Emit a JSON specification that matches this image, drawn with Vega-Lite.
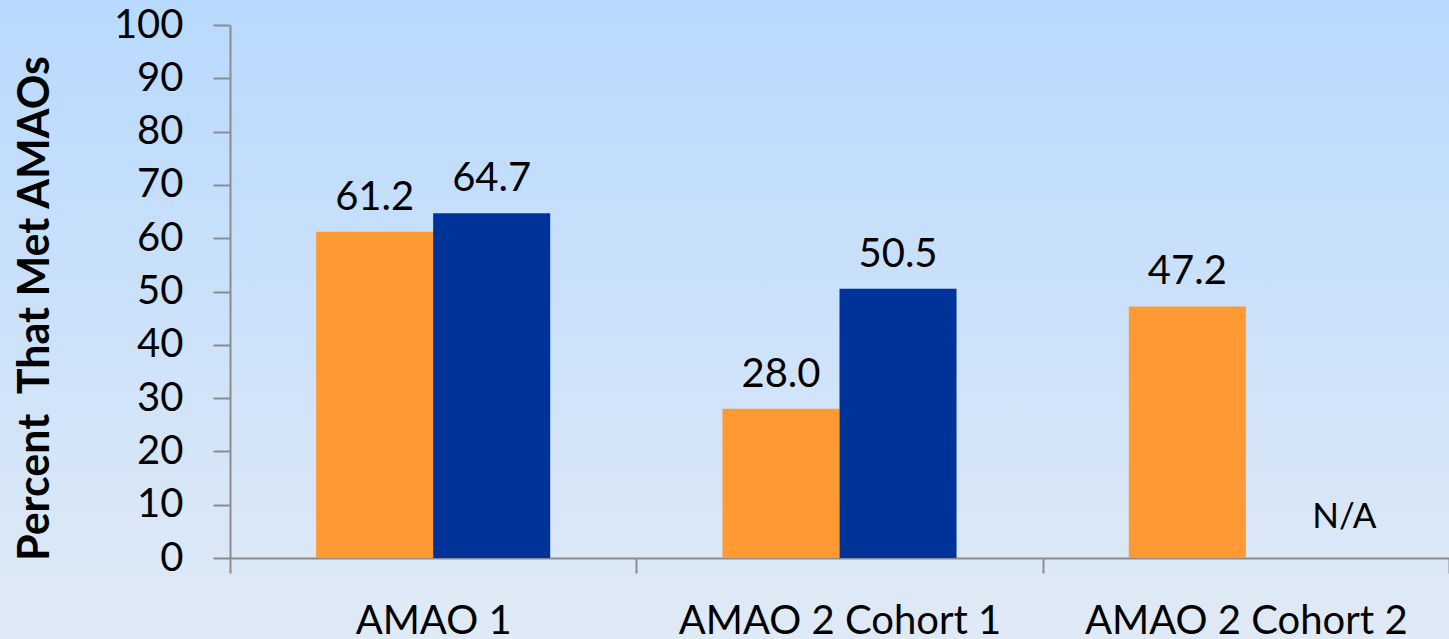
{
  "$schema": "https://vega.github.io/schema/vega-lite/v6.json",
  "width": 1449,
  "height": 639,
  "autosize": {"type": "none"},
  "padding": 0,
  "background": "#cce2f9",
  "config": {
    "font": "Lato",
    "mark": {"invalid": "show"},
    "view": {
      "stroke": null,
      "fill": {
        "gradient": "linear",
        "x1": 0, "y1": 0, "x2": 0, "y2": 1,
        "stops": [
          {"offset": 0, "color": "#b8d9ff"},
          {"offset": 1, "color": "#e0eaf5"}
        ]
      }
    }
  },
  "data": {
    "values": [
      {"category": "AMAO 1", "series": "Series 1", "value": 61.2},
      {"category": "AMAO 1", "series": "Series 2", "value": 64.7},
      {"category": "AMAO 2 Cohort 1", "series": "Series 1", "value": 28.0},
      {"category": "AMAO 2 Cohort 1", "series": "Series 2", "value": 50.5},
      {"category": "AMAO 2 Cohort 2", "series": "Series 1", "value": 47.2},
      {"category": "AMAO 2 Cohort 2", "series": "Series 2", "value": null}
    ]
  },
  "encoding": {
    "x": {
      "field": "category",
      "type": "nominal",
      "sort": ["AMAO 1", "AMAO 2 Cohort 1", "AMAO 2 Cohort 2"],
      "scale": {"range": [230, 1449], "paddingInner": 0, "paddingOuter": 0, "round": false},
      "axis": {
        "title": null,
        "offset": -81,
        "tickBand": "extent",
        "tickSize": 15,
        "tickColor": "#8c8c8c",
        "tickWidth": 2,
        "domainColor": "#8c8c8c",
        "domainWidth": 2,
        "labelFont": "Lato",
        "labelFontSize": 40,
        "labelColor": "#000000",
        "labelAngle": 0,
        "labelPadding": 60,
        "labelBaseline": "alphabetic",
        "labelOverlap": false,
        "labelLimit": 0
      }
    },
    "xOffset": {
      "field": "series",
      "type": "nominal",
      "sort": ["Series 1", "Series 2"],
      "scale": {"paddingInner": 0, "paddingOuter": 0.736}
    },
    "y": {
      "field": "value",
      "type": "quantitative",
      "scale": {"domain": [0, 100], "range": [558, 25], "nice": false, "zero": true},
      "axis": {
        "values": [0, 10, 20, 30, 40, 50, 60, 70, 80, 90, 100],
        "offset": -230,
        "grid": false,
        "domainColor": "#8c8c8c",
        "domainWidth": 2,
        "tickColor": "#8c8c8c",
        "tickWidth": 2,
        "tickSize": 17,
        "labelPadding": 30,
        "labelFont": "Lato",
        "labelFontSize": 40,
        "labelColor": "#000000",
        "labelFlush": false,
        "labelOverlap": false,
        "title": "Percent\u00a0 That Met AMAOs",
        "titleFont": "Lato",
        "titleFontSize": 43,
        "titleFontWeight": "bold",
        "titleColor": "#000000",
        "titleAngle": -90,
        "titleAlign": "center",
        "titleBaseline": "alphabetic",
        "titleX": -182,
        "titleY": 308,
        "titleLimit": 0
      }
    }
  },
  "layer": [
    {
      "mark": {"type": "bar"},
      "encoding": {
        "color": {
          "field": "series",
          "type": "nominal",
          "scale": {"domain": ["Series 1", "Series 2"], "range": ["#ff9933", "#003399"]},
          "legend": null
        }
      }
    },
    {
      "transform": [{"filter": "isValid(datum.value)"}],
      "mark": {"type": "text", "baseline": "alphabetic", "align": "center", "dy": -22, "fontSize": 40, "font": "Lato", "color": "#000000"},
      "encoding": {"text": {"field": "value", "type": "quantitative", "format": ".1f"}}
    },
    {
      "transform": [{"filter": "!isValid(datum.value)"}],
      "mark": {"type": "text", "baseline": "alphabetic", "align": "center", "dx": 40, "dy": -30, "fontSize": 35, "font": "Lato", "color": "#000000"},
      "encoding": {"y": {"datum": 0}, "text": {"value": "N/A"}}
    }
  ]
}
